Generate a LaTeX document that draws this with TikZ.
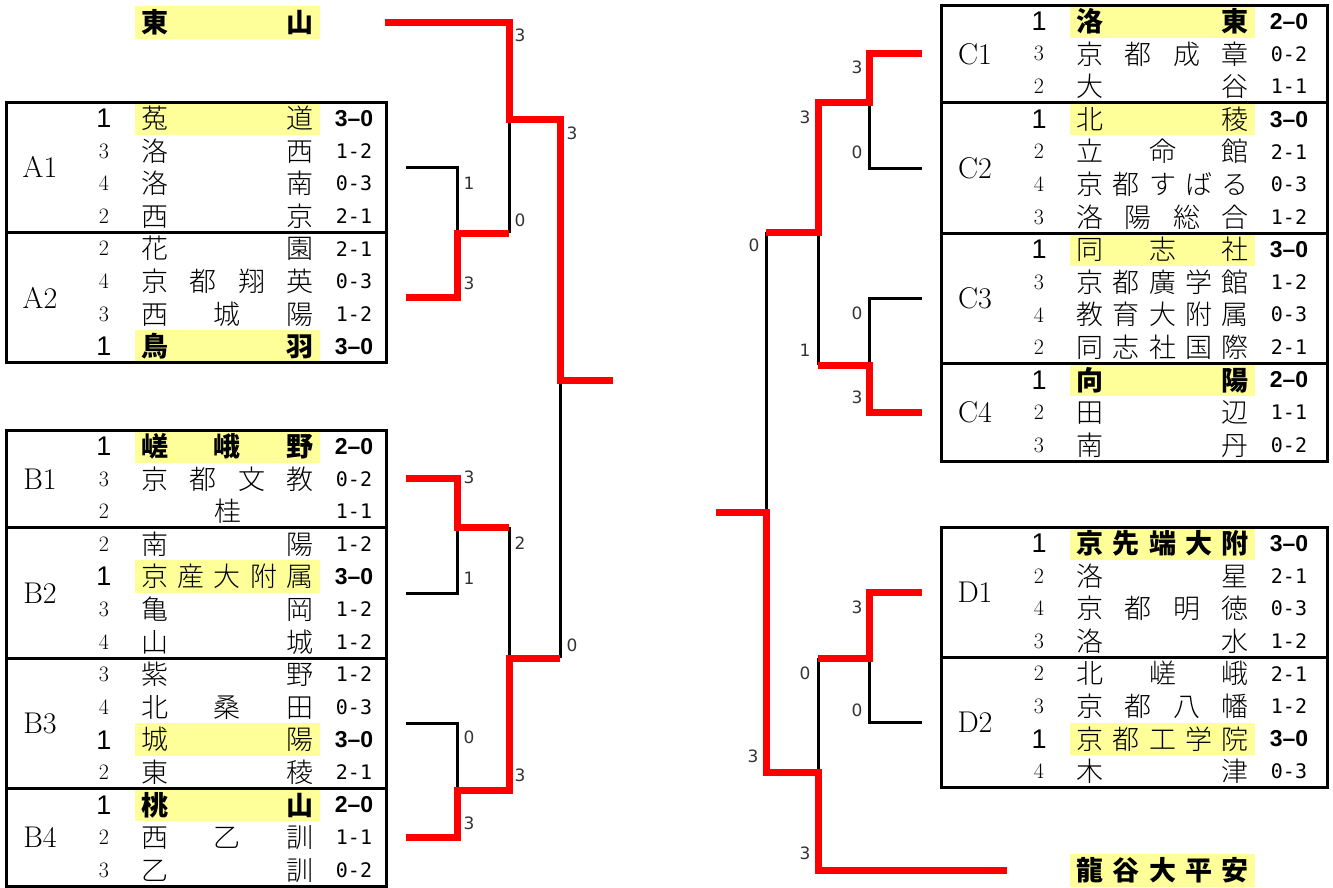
\documentclass[tikz,border=0pt]{standalone}
\usepackage{fontspec}
\usepackage{xcolor}
\usepackage{tikz}
\newfontfamily\jp{Noto Sans CJK JP}
\newfontfamily\jpl{Noto Sans CJK JP Light}
\newfontfamily\lsans{Liberation Sans}
\newfontfamily\dsans{DejaVu Sans}
\newfontfamily\mono{DejaVu Sans Mono}
\definecolor{hl}{RGB}{255,255,153}
\definecolor{wred}{RGB}{255,0,0}

\def\rh{32.6}
\def\gw{380}

\tikzset{
  gbox/.style={draw, line width=3pt, inner sep=0pt, outer sep=0pt, minimum width=\gw pt},
  glab/.style={font=\fontsize{30}{30}\selectfont},
  rkp/.style={font=\fontsize{22}{22}\selectfont},
  rkw/.style={font=\lsans\fontsize{27}{27}\selectfont},
  rkb/.style={rkw},
  nmp/.style={inner sep=0pt, minimum width=185pt, minimum height=\rh pt, font=\jpl\fontsize{27}{27}\selectfont},
  nmw/.style={nmp, fill=hl},
  nmb/.style={nmw, font=\jp\bfseries\fontsize{27}{27}\selectfont},
  scp/.style={font=\mono\fontsize{20}{20}\selectfont},
  scw/.style={font=\lsans\bfseries\fontsize{23}{23}\selectfont},
  scb/.style={scw},
  lose/.style={line width=3pt},
  win/.style={line width=7pt, wred},
  res/.style={font=\dsans\fontsize{17}{17}\selectfont, text=black!80},
}

% group: name, top, rows, rank/name/score/kind
\newcommand\grp[4]{%
  \foreach \rnk/\nam/\scr/\knd [count=\i] in {#4} {
    \node[rk\knd] (#1-r\i) at (104, #2+\i*\rh-\rh/2) {\rnk};
    \node[nm\knd] (#1-n\i) at (227.5, #2+\i*\rh-\rh/2) {\makebox[172pt][s]{\nam}};
    \node[sc\knd] (#1-s\i) at (354, #2+\i*\rh-\rh/2) {\scr};
  }
  \node[gbox, minimum height=#3*\rh pt] (#1) at (6+\gw/2, #2+#3*\rh/2) {};
  \node[glab] (#1-lab) at (40, #2+#3*\rh/2) {#1};
}

\begin{document}
\begin{tikzpicture}[x=1pt, y=-1pt]
    \useasboundingbox (0,0) rectangle (1333,887);

    % left tables
    \node[nmb] (hs) at (227.5,22.5) {\makebox[172pt][s]{東 山}};
    \grp{A1}{102}{4}{1/菟 道/3–0/w, 3/洛 西/1-2/p, 4/洛 南/0-3/p, 2/西 京/2-1/p}
    \grp{A2}{232.4}{4}{2/花 園/2-1/p, 4/京 都 翔 英/0-3/p, 3/西 城 陽/1-2/p, 1/鳥 羽/3–0/b}
    \grp{B1}{430}{3}{1/嵯 峨 野/2–0/b, 3/京 都 文 教/0-2/p, 2/\hfil 桂\hfil/1-1/p}
    \grp{B2}{527.8}{4}{2/南 陽/1-2/p, 1/京 産 大 附 属/3–0/w, 3/亀 岡/1-2/p, 4/山 城/1-2/p}
    \grp{B3}{658.2}{4}{3/紫 野/1-2/p, 4/北 桑 田/0-3/p, 1/城 陽/3–0/w, 2/東 稜/2-1/p}
    \grp{B4}{788.6}{3}{1/桃 山/2–0/b, 2/西 乙 訓/1-1/p, 3/乙 訓/0-2/p}

    % right tables
    \begin{scope}[xshift=935pt]
    \def\gw{386}
    \grp{C1}{5}{3}{1/洛 東/2–0/b, 3/京 都 成 章/0-2/p, 2/大 谷/1-1/p}
    \grp{C2}{102.8}{4}{1/北 稜/3–0/w, 2/立 命 館/2-1/p, 4/京 都 す ば る/0-3/p, 3/洛 陽 総 合/1-2/p}
    \grp{C3}{233.2}{4}{1/同 志 社/3–0/w, 3/京 都 廣 学 館/1-2/p, 4/教 育 大 附 属/0-3/p, 2/同 志 社 国 際/2-1/p}
    \grp{C4}{363.6}{3}{1/向 陽/2–0/b, 2/田 辺/1-1/p, 3/南 丹/0-2/p}
    \grp{D1}{527}{4}{1/京 先 端 大 附/3–0/b, 2/洛 星/2-1/p, 4/京 都 明 徳/0-3/p, 3/洛 水/1-2/p}
    \grp{D2}{657.4}{4}{2/北 嵯 峨/2-1/p, 3/京 都 八 幡/1-2/p, 1/京 都 工 学 院/3–0/w, 4/木 津/0-3/p}
    \node[nmb] (ry) at (227.5,870.5) {\makebox[172pt][s]{龍 谷 大 平 安}};
    \end{scope}

    % left bracket
    \coordinate (qa) at (457,233);
    \coordinate (qb) at (457,527);
    \coordinate (qc) at (457,790);
    \coordinate (ra) at (509,119);
    \coordinate (rb) at (509,658);
    \coordinate (sl) at (560,380);
    \coordinate (wl) at (613,380);
    \draw[lose] ([xshift=20pt]A1.east) -| (qa);
    \draw[lose] (qa -| ra) -- (ra);
    \draw[lose] ([xshift=20pt]B2.east) -| (qb);
    \draw[lose] (qb -| rb) -- (rb);
    \draw[lose] ([xshift=20pt]B3.east) -| (qc);
    \draw[lose] (rb -| sl) -- (sl);
    \draw[win] ([xshift=65pt]hs.east) -| (ra) -| (sl) -- (wl);
    \draw[win] ([xshift=20pt]A2.east) -| (qa) -- (qa -| ra);
    \draw[win] ([xshift=20pt]B1.east) -| (qb) -- (qb -| rb);
    \draw[win] ([xshift=20pt]B4.east) -| (qc) -| (rb) -- (rb -| sl);

    % right bracket
    \coordinate (qc1) at (869,102);
    \coordinate (qc2) at (869,365);
    \coordinate (qd) at (869,658);
    \coordinate (rc) at (818,232);
    \coordinate (rd) at (818,772);
    \coordinate (sr) at (766,512);
    \coordinate (wr) at (716,512);
    \draw[lose] ([xshift=-19pt]C2.west) -| (qc1);
    \draw[lose] ([xshift=-19pt]C3.west) -| (qc2);
    \draw[lose] (qc2 -| rc) -- (rc);
    \draw[lose] (rc -| sr) -- (sr);
    \draw[lose] ([xshift=-19pt]D2.west) -| (qd);
    \draw[lose] (qd -| rd) -- (rd);
    \draw[win] ([xshift=-19pt]C1.west) -| (qc1) -| (rc) -- (rc -| sr);
    \draw[win] ([xshift=-19pt]C4.west) -| (qc2) -- (qc2 -| rc);
    \draw[win] ([xshift=-19pt]D1.west) -| (qd) -- (qd -| rd);
    \draw[win] ([xshift=-63pt]ry.west) -| (rd) -| (sr) -- (wr);

    % game scores
    \foreach \x/\y/\t [count=\i] in {520/35/3, 469/183/1, 469/283/3, 520/220/0, 572/133/3,
        469/477/3, 469/578/1, 520/543/2, 469/737/0, 469/823/3, 520/775/3, 572/645/0,
        857/67/3, 857/152/0, 805/117/3, 857/313/0, 857/397/3, 805/350/1, 754/245/0,
        753/756/3, 857/607/3, 857/710/0, 805/673/0, 805/853/3}
      \node[res] (g\i) at (\x,\y) {\t};
\end{tikzpicture}
\end{document}
